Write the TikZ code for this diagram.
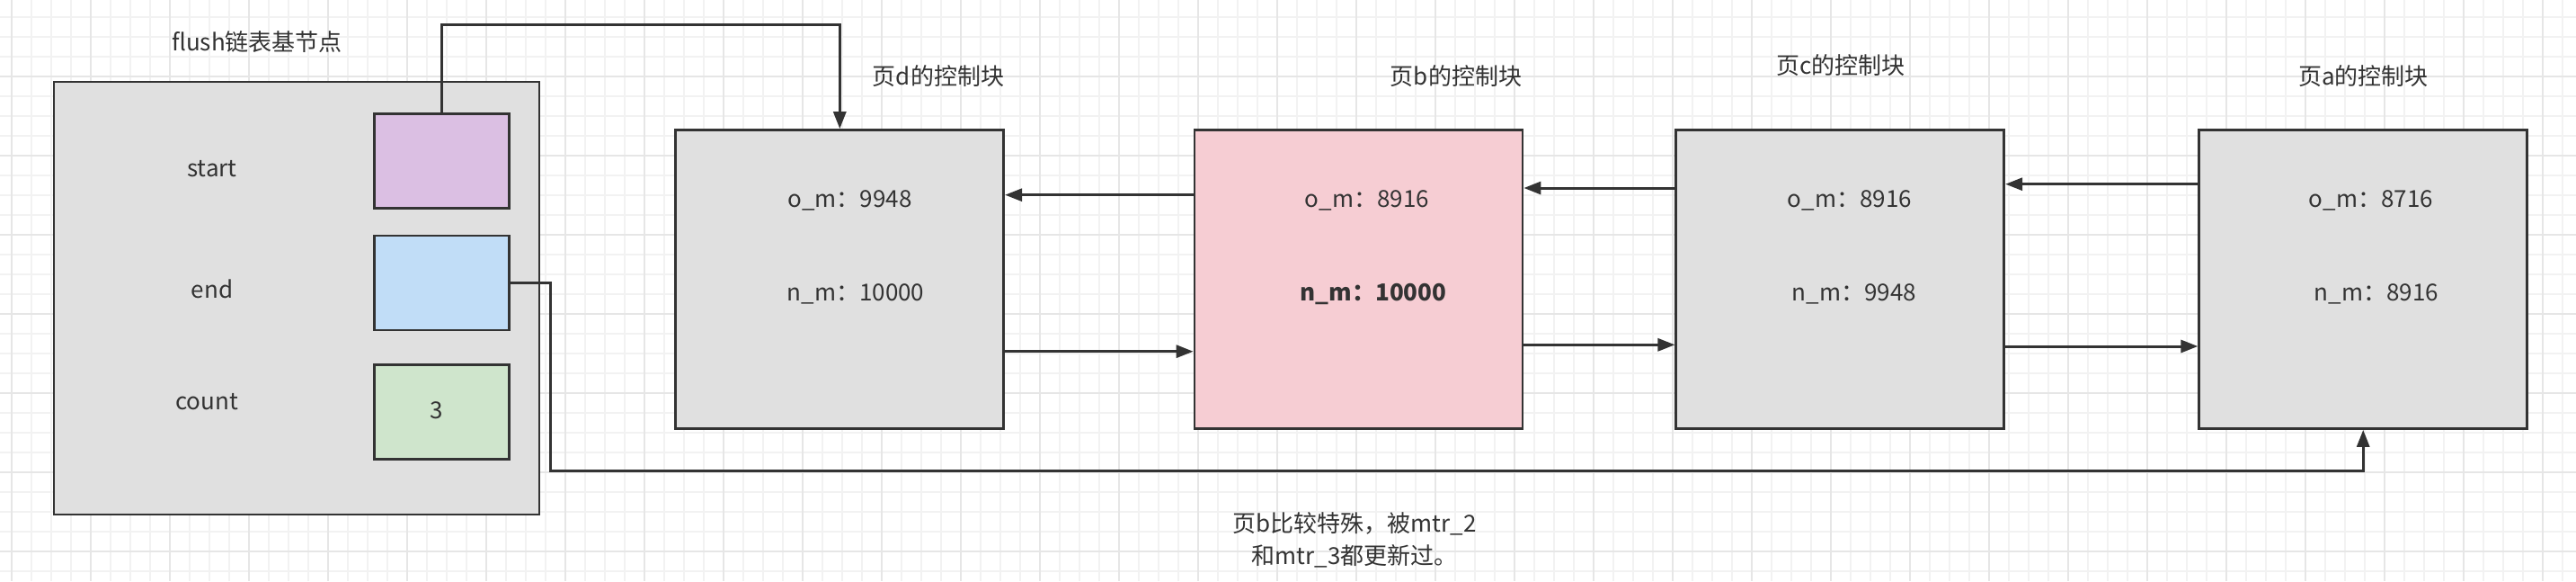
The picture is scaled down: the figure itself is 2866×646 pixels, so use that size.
\documentclass[tikz,border=0pt]{standalone}
\usepackage{fontspec}
\setmainfont{Noto Sans CJK SC}
\usetikzlibrary{arrows.meta}
\definecolor{ink}{HTML}{333333}
\definecolor{basegray}{HTML}{E0E0E0}
\definecolor{purplefill}{HTML}{DBBFE3}
\definecolor{bluefill}{HTML}{C1DDF7}
\definecolor{greenfill}{HTML}{CFE5CC}
\definecolor{pinkfill}{HTML}{F6CDD3}
\definecolor{gridminor}{HTML}{F2F2F2}
\definecolor{gridmajor}{HTML}{E6E6E6}
\tikzset{
  box/.style={draw=ink, line width=2.7pt, inner sep=0pt, rectangle},
  fieldbox/.style={box, minimum width=150pt, minimum height=105pt},
  pagebox/.style={box, fill=basegray, minimum width=365pt, minimum height=332pt},
  lbl/.style={text=ink, inner sep=0pt, font=\fontsize{26}{32}\selectfont},
  arr/.style={draw=ink, line width=3pt, -{Triangle[length=19pt,width=14pt]}},
  wire/.style={draw=ink, line width=3pt}
}
\begin{document}
\begin{tikzpicture}[x=1pt,y=-1pt]
\useasboundingbox (0,0) rectangle (2866,646);
\fill[white] (0,0) rectangle (2866,646);
% grid
\foreach \i in {0,...,129} { \draw[gridminor, line width=1.5pt] ({13+22*\i},0) -- ({13+22*\i},646); }
\foreach \i in {0,...,29} { \draw[gridminor, line width=1.5pt] (0,{19+22*\i}) -- (2866,{19+22*\i}); }
\foreach \i in {0,...,32} { \draw[gridmajor, line width=1.8pt] ({13+88*\i},0) -- ({13+88*\i},646); }
\foreach \i in {0,...,7} { \draw[gridmajor, line width=1.8pt] (0,{85+88*\i}) -- (2866,{85+88*\i}); }

% base node
\node[box, fill=basegray, minimum width=540pt, minimum height=481pt] (base) at (330,331.5) {};
\node[lbl] (basetitle) at (286,47) {flush链表基节点};
\node[fieldbox, fill=purplefill] (start) at (491.75,179) {};
\node[fieldbox, fill=bluefill] (end) at (491.75,314.6) {};
\node[fieldbox, fill=greenfill] (count) at (491.75,457.8) {};
\node[lbl] (startlbl) at (236,187.5) {start};
\node[lbl] (endlbl) at (236,321) {end};
\node[lbl] (countlbl) at (230,447) {count};
\node[lbl] (countval) at (486,456.5) {3};

% page control blocks
\node[pagebox] (pd) at (934.3,310.5) {};
\node[pagebox, fill=pinkfill] (pb) at (1511.5,310.5) {};
\node[pagebox] (pc) at (2047.3,310.5) {};
\node[pagebox] (pa) at (2629.2,310.5) {};

\node[lbl] (pdt) at (1044,85) {页d的控制块};
\node[lbl] (pbt) at (1620,85) {页b的控制块};
\node[lbl] (pct) at (2048,73) {页c的控制块};
\node[lbl] (pat) at (2629.5,85) {页a的控制块};

\node[lbl] (pdo) at (945.5,223) {o\_m：9948};
\node[lbl] (pdn) at (952,327) {n\_m：10000};
\node[lbl] (pbo) at (1521,223) {o\_m：8916};
\node[lbl] (pbn) at (1528,327) {\bfseries n\_m：10000};
\node[lbl] (pco) at (2058,223) {o\_m：8916};
\node[lbl] (pcn) at (2063,327) {n\_m：9948};
\node[lbl] (pao) at (2638,223) {o\_m：8716};
\node[lbl] (pan) at (2644,327) {n\_m：8916};

\node[lbl, align=center, font=\fontsize{26}{36}\selectfont] (note) at (1507,600) {页b比较特殊，被mtr\_2\\和mtr\_3都更新过。};

% connectors
\coordinate (toprail) at (0,27);
\draw[arr] (start.north) -- (start.north |- toprail) -| (pd.north);
\coordinate (endjog) at (612.5,523);
\draw[arr] (end.east) -| (endjog) -| (pa.south);

\draw[arr] (pb.west |- 0,216.7) -- (pd.east |- 0,216.7);
\draw[arr] (pd.east |- 0,390.7) -- (pb.west |- 0,390.7);
\draw[arr] (pc.west |- 0,209) -- (pb.east |- 0,209);
\draw[arr] (pb.east |- 0,383.3) -- (pc.west |- 0,383.3);
\draw[arr] (pa.west |- 0,204.7) -- (pc.east |- 0,204.7);
\draw[arr] (pc.east |- 0,385) -- (pa.west |- 0,385);
\end{tikzpicture}
\end{document}
